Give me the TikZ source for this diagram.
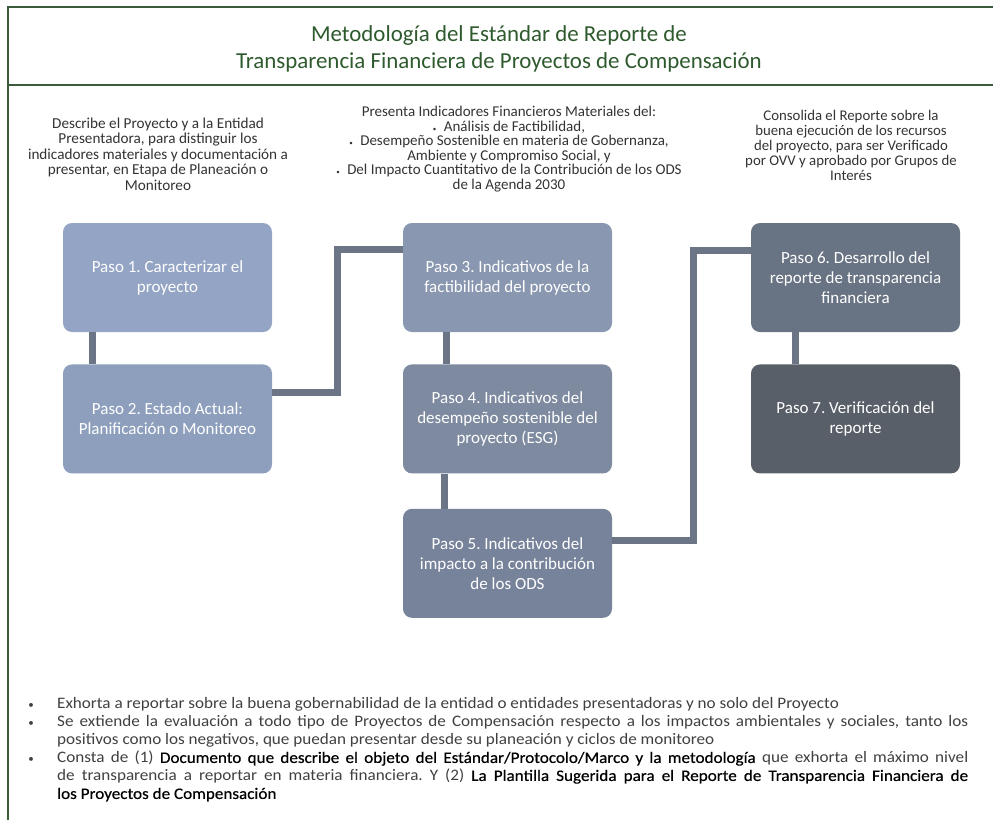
\documentclass[tikz,border=0pt]{standalone}
\usepackage{fontspec}
\setmainfont{Carlito}
\newfontfamily\narrowfont[FakeStretch=1.07]{Carlito}
\newfontfamily\narrowbold[FakeStretch=1.07, FakeBold=0.5]{Carlito}
\usetikzlibrary{positioning,calc}
\hyphenpenalty=10000
\frenchspacing

\definecolor{framegreen}{HTML}{3B5B3B}
\definecolor{titlegreen}{HTML}{2E5A2E}
\definecolor{linkgray}{HTML}{6B7585}
\definecolor{pasoA}{HTML}{93A4C4}
\definecolor{pasoB}{HTML}{8E9FBD}
\definecolor{pasoC}{HTML}{8A97B0}
\definecolor{pasoD}{HTML}{7D8A9F}
\definecolor{pasoE}{HTML}{77839A}
\definecolor{pasoF}{HTML}{687383}
\definecolor{pasoG}{HTML}{595F68}
\definecolor{desctext}{HTML}{333333}
\definecolor{notetext}{HTML}{404040}

\newcommand{\resalta}[1]{{\narrowbold\color{black}#1}}

\tikzset{
  paso/.style={rounded corners=9pt, minimum width=209pt, minimum height=109pt,
    align=center, text=white, inner sep=0pt,
    font=\fontsize{17}{20}\selectfont},
  desc/.style={align=center, text=desctext, inner sep=0pt,
    font=\fontsize{15.2}{15.5}\selectfont},
  link/.style={draw=linkgray, line width=7pt},
  nota/.style={anchor=north west, text width=911pt, align=justify, text=notetext,
    inner sep=0pt, font=\narrowfont\fontsize{16}{18}\selectfont}
}

\begin{document}
\begin{tikzpicture}[x=1pt, y=-1pt]
\useasboundingbox (0,0) rectangle (993,820);

% marco
\draw[framegreen, line width=2.5pt] (8,820) -- (8,7) -- (993,7);
\draw[framegreen, line width=2.5pt] (8,85) -- (993,85);

% titulo
\node[align=center, text=titlegreen, font=\fontsize{22.9}{27}\selectfont] (titulo) at (499,49)
  {Metodología del Estándar de Reporte de\\Transparencia Financiera de Proyectos de Compensación};

% textos descriptivos
\node[desc] (descA) at (158,154) {Describe el Proyecto y a la Entidad\\Presentadora, para distinguir los\\indicadores materiales y documentación a\\presentar, en Etapa de Planeación o\\Monitoreo};
\node[desc, font=\fontsize{15}{14.6}\selectfont] (descB) at (509,149) {Presenta Indicadores Financieros Materiales del:\\
  {\scriptsize\textbullet}\enspace Análisis de Factibilidad,\\
  {\scriptsize\textbullet}\enspace Desempeño Sostenible en materia de Gobernanza,\\
  Ambiente y Compromiso Social, y\\
  {\scriptsize\textbullet}\enspace Del Impacto Cuantitativo de la Contribución de los ODS\\
  de la Agenda 2030};
\node[desc, font=\fontsize{14.8}{15}\selectfont] (descC) at (851,145) {Consolida el Reporte sobre la\\buena ejecución de los recursos\\del proyecto, para ser Verificado\\por OVV y aprobado por Grupos de\\Interés};

% pasos
\node[paso, fill=pasoA] (paso1) at (167.5,277.5) {Paso 1. Caracterizar el\\proyecto};
\node[paso, fill=pasoB, below=32pt of paso1] (paso2) {Paso 2. Estado Actual:\\Planificación o Monitoreo};
\node[paso, fill=pasoC] (paso3) at (507.5,277.5) {Paso 3. Indicativos de la\\factibilidad del proyecto};
\node[paso, fill=pasoD, below=32pt of paso3] (paso4) {Paso 4. Indicativos del\\desempeño sostenible del\\proyecto (ESG)};
\node[paso, fill=pasoE, below=35pt of paso4] (paso5) {Paso 5. Indicativos del\\impacto a la contribución\\de los ODS};
\node[paso, fill=pasoF] (paso6) at (855.5,277.5) {Paso 6. Desarrollo del\\reporte de transparencia\\financiera};
\node[paso, fill=pasoG, below=32pt of paso6] (paso7) {Paso 7. Verificación del\\reporte};

% conectores
\draw[link] ($(paso1.south west)+(30,0)$) -- ($(paso2.north west)+(30,0)$);
\draw[link] ($(paso3.south west)+(44,0)$) -- ($(paso4.north west)+(44,0)$);
\draw[link] ($(paso4.south west)+(42,0)$) -- ($(paso5.north west)+(42,0)$);
\draw[link] ($(paso6.south west)+(45,0)$) -- ($(paso7.north west)+(45,0)$);
\draw[link] ($(paso2.east)+(0,-26)$) -- ++(65,0) |- ($(paso3.west)+(0,-28)$);
\draw[link] ($(paso5.east)+(0,-23)$) -- ++(81,0) |- ($(paso6.west)+(0,-27)$);

% notas
\foreach \y in {706,724,760}
  \node[text=notetext, font=\fontsize{11}{11}\selectfont] at (31,\y) {\textbullet};
\node[nota] (nota1) at (57,697) {Exhorta a reportar sobre la buena gobernabilidad de la entidad o entidades presentadoras y no solo del Proyecto};
\node[nota] (nota2) at (57,715) {Se extiende la evaluación a todo tipo de Proyectos de Compensación respecto a los impactos ambientales y sociales, tanto los\linebreak positivos como los negativos, que puedan presentar desde su planeación y ciclos de monitoreo};
\node[nota] (nota3) at (57,751) {Consta de (1) \resalta{Documento que describe el objeto del Estándar/Protocolo/Marco y la metodología} que exhorta el máximo nivel\linebreak de transparencia a reportar en materia financiera. Y (2) \resalta{La Plantilla Sugerida para el Reporte de Transparencia Financiera de}\linebreak \resalta{los Proyectos de Compensación}};
\end{tikzpicture}
\end{document}
